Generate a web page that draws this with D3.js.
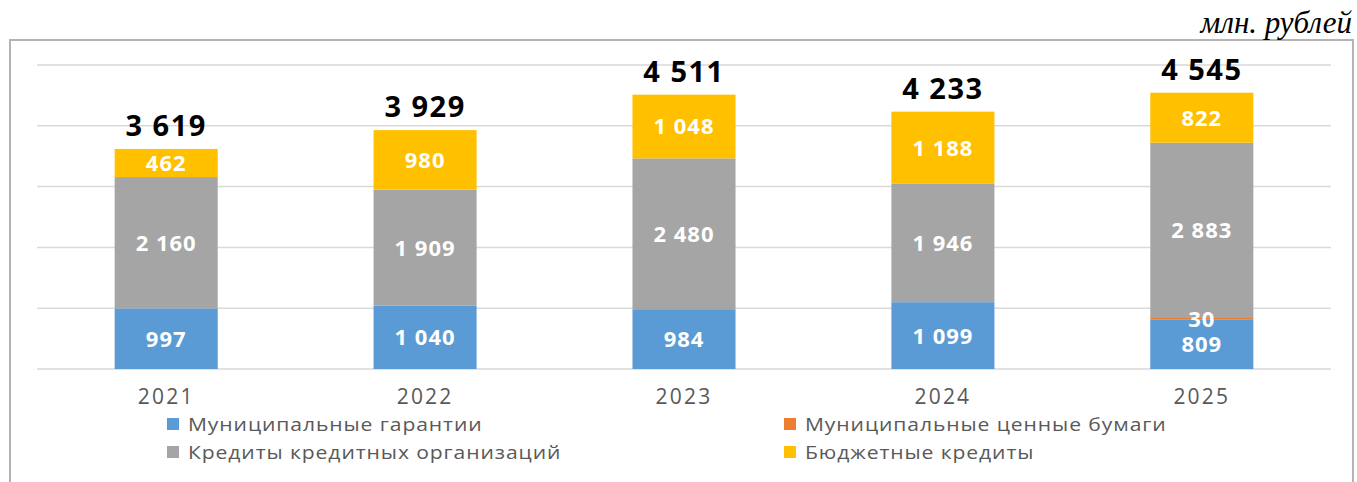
<!DOCTYPE html>
<html lang="ru">
<head>
<meta charset="utf-8">
<title>Муниципальный долг</title>
<script src="https://d3js.org/d3.v7.min.js"></script>
<style>
  body { margin: 0; background: #fff; }
  svg { display: block; }
  text { font-family: "Open Sans", sans-serif; }
  .unit { font-family: "Liberation Serif", "Times New Roman", serif; font-style: italic; }
  .total { font-weight: 700; fill: #000; }
  .inside { font-weight: 700; fill: #fff; }
  .year, .legend { fill: #595959; }
</style>
</head>
<body>
<script>
// data
const years = ["2021", "2022", "2023", "2024", "2025"];
const guarantees = [997, 1040, 984, 1099, 809];     // Муниципальные гарантии
const securities = [0, 0, 0, 0, 30];                // Муниципальные ценные бумаги
const bankLoans = [2160, 1909, 2480, 1946, 2883];   // Кредиты кредитных организаций
const budgetLoans = [462, 980, 1048, 1188, 822];    // Бюджетные кредиты
const totals = [3619, 3929, 4511, 4233, 4545];
const yTicks = [0, 1000, 2000, 3000, 4000, 5000];

const seriesNames = ["Муниципальные гарантии", "Муниципальные ценные бумаги",
                     "Кредиты кредитных организаций", "Бюджетные кредиты"];
const colors = ["#5b9bd5", "#ed7d31", "#a5a5a5", "#ffc000"];

const w = 1357, h = 482;

const table = years.map((y, i) => ({
    year: y,
    s0: guarantees[i], s1: securities[i], s2: bankLoans[i], s3: budgetLoans[i]
}));

const fmt = v => d3.format(",")(v).replace(/,/g, " ");

const svg = d3.select("body").append("svg")
    .attr("width", w)
    .attr("height", h);

// frame
svg.append("rect")
    .attr("x", 10).attr("y", 40)
    .attr("width", 1343).attr("height", 460)
    .attr("fill", "none")
    .attr("stroke", "#b4b4b4")
    .attr("stroke-width", 2);

// units
svg.append("text")
    .attr("class", "unit")
    .attr("x", 1352).attr("y", 33)
    .attr("text-anchor", "end")
    .attr("font-size", 31)
    .text("млн. рублей");

// scales
const x = d3.scaleBand()
    .domain(years)
    .range([37, 1331])
    .paddingInner(0.602)
    .paddingOuter(0.3);

const y = d3.scaleLinear()
    .domain([0, 5000])
    .range([369, 65]);

// gridlines
svg.append("g")
    .selectAll("line")
    .data(yTicks)
    .join("line")
    .attr("x1", 37).attr("x2", 1331)
    .attr("y1", d => y(d)).attr("y2", d => y(d))
    .attr("stroke", "#d9d9d9")
    .attr("stroke-width", 1.5);

// stacked bars
const stack = d3.stack().keys(["s0", "s1", "s2", "s3"]);
const layers = stack(table);

svg.append("g")
    .selectAll("g")
    .data(layers)
    .join("g")
    .attr("fill", (d, i) => colors[i])
    .selectAll("rect")
    .data(d => d)
    .join("rect")
    .attr("x", d => x(d.data.year))
    .attr("width", x.bandwidth())
    .attr("y", d => y(d[1]))
    .attr("height", d => y(d[0]) - y(d[1]));

// segment labels
layers.forEach(layer => {
    svg.append("g")
        .selectAll("text")
        .data(layer.filter(d => d[1] - d[0] > 0))
        .join("text")
        .attr("class", "inside")
        .attr("x", d => x(d.data.year) + x.bandwidth() / 2)
        .attr("y", d => y((d[0] + d[1]) / 2))
        .attr("dy", "0.36em")
        .attr("text-anchor", "middle")
        .attr("font-size", 22)
        .attr("letter-spacing", 1)
        .text(d => fmt(d[1] - d[0]));
});

// totals
svg.append("g")
    .selectAll("text")
    .data(years)
    .join("text")
    .attr("class", "total")
    .attr("x", d => x(d) + x.bandwidth() / 2)
    .attr("y", (d, i) => y(totals[i]) - 13)
    .attr("text-anchor", "middle")
    .attr("font-size", 29)
    .attr("letter-spacing", 1.5)
    .text((d, i) => fmt(totals[i]));

// x axis
const xAxis = d3.axisBottom(x).tickSize(0).tickPadding(0);
const gx = svg.append("g")
    .attr("transform", "translate(0,369)")
    .call(xAxis);
gx.select(".domain").remove();
gx.selectAll("text")
    .attr("class", "year")
    .attr("y", 35)
    .attr("dy", 0)
    .attr("font-size", 21)
    .attr("letter-spacing", 2.2)
    .attr("font-family", null);

// legend (text is drawn a bit wider, as in the source)
const legendPos = [[167, 424], [784, 424], [167, 452], [784, 452]];
const sx = 1.14;
const legend = svg.append("g")
    .selectAll("g")
    .data(seriesNames)
    .join("g")
    .attr("transform", (d, i) => `translate(${legendPos[i][0]},${legendPos[i][1]})`);

legend.append("rect")
    .attr("x", 0).attr("y", -6)
    .attr("width", 12).attr("height", 12)
    .attr("fill", (d, i) => colors[i]);

legend.append("text")
    .attr("class", "legend")
    .attr("transform", `translate(21,0) scale(${sx},1)`)
    .attr("dy", "0.36em")
    .attr("font-size", 18.5)
    .attr("letter-spacing", 0.8)
    .text(d => d);
</script>
</body>
</html>
